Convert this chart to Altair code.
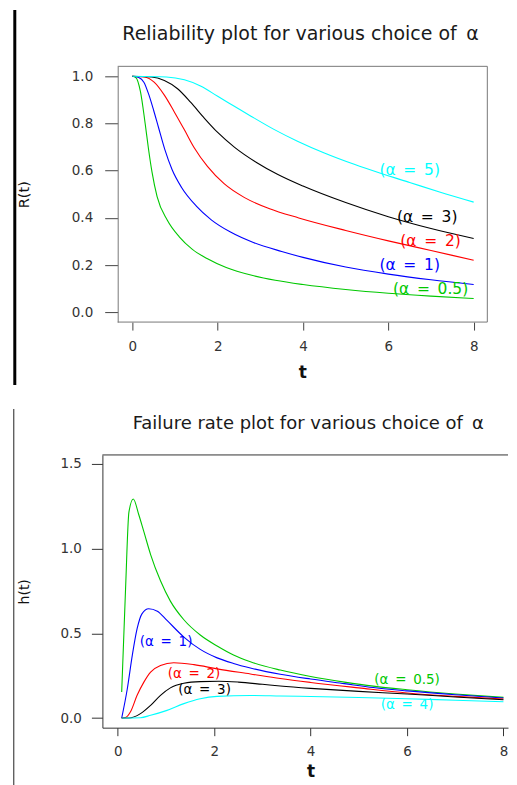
import altair as alt
import pandas as pd

FONT = "DejaVu Sans"
SP = "\u2002"

# ---------------- top panel: reliability R(t) ----------------
rel_keys = ["0.5", "1", "2", "3", "5"]
rel_colors = ["#00C800", "#0000FF", "#FF0000", "#000000", "#00FFFF"]

rel_t_a05 = [0, 0.08, 0.19, 0.3, 0.38, 0.46, 0.58, 0.82, 1.1, 1.4, 1.75, 2.2, 2.8, 3.35, 4.0, 5.0, 6.0, 7.0, 8.0]
rel_R_a05 = [1.0, 0.995, 0.935, 0.80, 0.69, 0.595, 0.49, 0.39, 0.32, 0.268, 0.228, 0.19, 0.157, 0.136, 0.118, 0.097, 0.081, 0.069, 0.059]

rel_t_a1 = [0, 0.15, 0.27, 0.39, 0.5, 0.61, 0.76, 0.93, 1.15, 1.5, 1.85, 2.3, 2.85, 3.5, 4.0, 5.0, 6.0, 7.0, 8.0]
rel_R_a1 = [1.0, 0.995, 0.975, 0.92, 0.855, 0.785, 0.69, 0.605, 0.53, 0.45, 0.392, 0.34, 0.295, 0.258, 0.233, 0.192, 0.162, 0.138, 0.118]

rel_t_a2 = [0, 0.28, 0.51, 0.75, 0.98, 1.22, 1.45, 1.76, 2.15, 2.62, 3.2, 3.9, 5.0, 6.0, 7.0, 8.0]
rel_R_a2 = [1.0, 0.997, 0.975, 0.92, 0.85, 0.773, 0.697, 0.618, 0.545, 0.487, 0.44, 0.400, 0.347, 0.303, 0.262, 0.221]

rel_t_a3 = [0, 0.45, 0.75, 1.06, 1.37, 1.69, 2.0, 2.39, 2.9, 3.4, 4.0, 5.0, 6.0, 7.0, 8.0]
rel_R_a3 = [1.0, 0.997, 0.982, 0.947, 0.889, 0.822, 0.762, 0.70, 0.636, 0.585, 0.535, 0.465, 0.405, 0.355, 0.313]

rel_t_a5 = [0, 0.8, 1.22, 1.61, 2.0, 2.39, 2.78, 3.33, 3.87, 4.5, 5.2, 5.8, 6.5, 7.2, 8.0]
rel_R_a5 = [1.0, 0.997, 0.985, 0.958, 0.915, 0.873, 0.831, 0.774, 0.725, 0.675, 0.627, 0.59, 0.55, 0.51, 0.467]

rel_label_text = ["(α" + SP + "=" + SP + v + ")" for v in ["0.5", "1", "2", "3", "5"]]
rel_label_t = [6.99, 6.5, 6.99, 6.91, 6.5]
rel_label_R = [0.10, 0.200, 0.303, 0.402, 0.602]

# ---------------- bottom panel: failure rate h(t) ----------------
haz_keys = ["0.5", "1", "2", "3", "4"]
haz_colors = ["#00C800", "#0000FF", "#FF0000", "#000000", "#00FFFF"]

haz_t_a05 = [0.08, 0.16, 0.23, 0.32, 0.435, 0.54, 0.68, 0.885, 1.09, 1.37, 1.71, 2.06, 2.4, 2.75, 3.37, 4.0, 4.7, 5.3, 6.0, 7.0, 8.0]
haz_h_a05 = [0.153, 0.76, 1.215, 1.293, 1.20, 1.10, 0.965, 0.81, 0.69, 0.58, 0.49, 0.425, 0.372, 0.332, 0.283, 0.245, 0.212, 0.188, 0.167, 0.142, 0.122]

haz_t_a1 = [0.08, 0.195, 0.3, 0.4, 0.5, 0.64, 0.82, 1.02, 1.37, 1.71, 2.06, 2.4, 2.75, 3.37, 4.0, 4.7, 5.3, 6.0, 7.0, 8.0]
haz_h_a1 = [0.0, 0.17, 0.37, 0.527, 0.615, 0.645, 0.63, 0.576, 0.478, 0.405, 0.355, 0.322, 0.295, 0.258, 0.23, 0.203, 0.18, 0.16, 0.137, 0.118]

haz_t_a2 = [0.08, 0.16, 0.26, 0.4, 0.54, 0.68, 0.885, 1.16, 1.58, 2.06, 2.75, 3.37, 4.0, 5.0, 6.0, 7.0, 8.0]
haz_h_a2 = [0.0, 0.003, 0.035, 0.134, 0.212, 0.271, 0.31, 0.326, 0.315, 0.29, 0.26, 0.233, 0.21, 0.178, 0.148, 0.128, 0.112]

haz_t_a3 = [0.08, 0.23, 0.47, 0.68, 0.885, 1.09, 1.37, 1.71, 2.1, 2.5, 3.0, 3.37, 4.0, 5.0, 6.0, 7.0, 8.0]
haz_h_a3 = [0.0, 0.0, 0.026, 0.075, 0.134, 0.178, 0.205, 0.215, 0.217, 0.212, 0.199, 0.189, 0.175, 0.157, 0.142, 0.124, 0.108]

haz_t_a4 = [0.08, 0.47, 0.68, 1.02, 1.37, 1.71, 2.06, 2.75, 3.37, 4.0, 5.0, 6.0, 7.0, 8.0]
haz_h_a4 = [0.0, 0.002, 0.016, 0.045, 0.085, 0.114, 0.128, 0.133, 0.13, 0.127, 0.121, 0.114, 0.105, 0.096]

haz_label_text = ["(α" + SP + "=" + SP + v + ")" for v in ["0.5", "1", "2", "3", "4"]]
haz_label_t = [6.0, 1.0, 1.58, 1.8, 6.0]
haz_label_h = [0.226, 0.448, 0.262, 0.168, 0.075]

x_ticks = [0, 2, 4, 6, 8]
rel_y_ticks = [0.0, 0.2, 0.4, 0.6, 0.8, 1.0]
haz_y_ticks = [0.0, 0.5, 1.0, 1.5]

rel_title = "Reliability plot for various choice of" + SP + "α"
haz_title = "Failure rate plot for various choice of" + SP + "α"


def long_frame(keys, ts, vs):
    rows = []
    for k, tt, vv in zip(keys, ts, vs):
        for a, b in zip(tt, vv):
            rows.append({"series": k, "t": a, "v": b})
    return pd.DataFrame(rows)


rel_df = long_frame(rel_keys,
                    [rel_t_a05, rel_t_a1, rel_t_a2, rel_t_a3, rel_t_a5],
                    [rel_R_a05, rel_R_a1, rel_R_a2, rel_R_a3, rel_R_a5])
haz_df = long_frame(haz_keys,
                    [haz_t_a05, haz_t_a1, haz_t_a2, haz_t_a3, haz_t_a4],
                    [haz_h_a05, haz_h_a1, haz_h_a2, haz_h_a3, haz_h_a4])
rel_lab = pd.DataFrame({"series": rel_keys, "t": rel_label_t, "v": rel_label_R, "label": rel_label_text})
haz_lab = pd.DataFrame({"series": haz_keys, "t": haz_label_t, "v": haz_label_h, "label": haz_label_text})
one = pd.DataFrame({"a": [0]})


def vrule(color, sw, x, y, y2):
    return alt.Chart(one).mark_rule(color=color, strokeWidth=sw).encode(
        x=alt.value(x), y=alt.value(y), y2=alt.value(y2))


def hrule(color, sw, x, x2, y):
    return alt.Chart(one).mark_rule(color=color, strokeWidth=sw).encode(
        x=alt.value(x), x2=alt.value(x2), y=alt.value(y))


# ---------- top panel (plot group starts at the same x as the lower one) ----------
W1, H1 = 385.3, 256
L1 = 15.3  # inset of the drawn frame inside the group
FR1 = "#777777"
rel_color = alt.Color("series:N", scale=alt.Scale(domain=rel_keys, range=rel_colors), legend=None)
rel_x = alt.X("t:Q", scale=alt.Scale(domain=[-0.702, 8.32], nice=False, zero=False),
              axis=alt.Axis(values=x_ticks, format="d", title="t", titleFont=FONT, titleFontSize=17,
                            titleFontWeight="bold", titleColor="#111", titleBaseline="alphabetic",
                            titleX=200, titleY=55, tickSize=8, tickColor="#444", labelPadding=9,
                            labelFont=FONT, labelFontSize=13.5, labelColor="#333", domain=False,
                            grid=False, labelFlush=False))
rel_y = alt.Y("v:Q", scale=alt.Scale(domain=[-0.041, 1.042], nice=False, zero=False),
              axis=alt.Axis(values=rel_y_ticks, format=".1f", title="R(t)", titleFont=FONT,
                            titleFontSize=14.5, titleFontWeight="normal", titleColor="#111",
                            titleAngle=270, titleBaseline="alphabetic", titleX=-89, titleY=H1 / 2,
                            tickSize=13, tickColor="#444", labelPadding=12, labelFont=FONT,
                            labelFontSize=13.5, labelColor="#333", domain=True, domainColor=FR1,
                            offset=-L1, grid=False, labelFlush=False))

rel_lines = alt.Chart(rel_df).mark_line(strokeWidth=1.1, interpolate="monotone").encode(
    x=rel_x, y=rel_y, color=rel_color)
rel_text = alt.Chart(rel_lab).mark_text(font=FONT, fontSize=15.5, align="center", baseline="middle").encode(
    x="t:Q", y="v:Q", text="label:N", color=rel_color)
rel_head = alt.Chart(one).mark_text(text=rel_title, font=FONT, fontSize=19, color="#1a1a1a",
                                    align="center", baseline="alphabetic").encode(
    x=alt.value(198.3), y=alt.value(-26))

top = alt.layer(
    rel_lines, rel_text, rel_head,
    hrule(FR1, 1, L1, W1, 0), hrule(FR1, 1, L1, W1, H1), vrule(FR1, 1, W1, 0, H1),
    vrule("#000000", 3, -87.7, -56.5, 319),
).properties(width=W1, height=H1, view=alt.ViewBackground(stroke="transparent", strokeWidth=0))

# ---------- bottom panel ----------
W2, H2 = 406, 273
FR2 = "#333333"
haz_color = alt.Color("series:N", scale=alt.Scale(domain=haz_keys, range=haz_colors), legend=None)
haz_x = alt.X("t:Q", scale=alt.Scale(domain=[-0.32, -0.32 + W2 / 48.25], nice=False, zero=False),
              axis=alt.Axis(values=x_ticks, format="d", title="t", titleFont=FONT, titleFontSize=17,
                            titleFontWeight="bold", titleColor="#111", titleBaseline="alphabetic",
                            titleX=208.3, titleY=49, tickSize=8,
                            tickColor="#333", labelPadding=9, labelFont=FONT, labelFontSize=13.5,
                            labelColor="#333", domain=True, domainColor=FR2, grid=False,
                            labelFlush=False))
haz_y = alt.Y("v:Q", scale=alt.Scale(domain=[-0.057, 1.553], nice=False, zero=False),
              axis=alt.Axis(values=haz_y_ticks, format=".1f", title="h(t)", titleFont=FONT,
                            titleFontSize=14, titleFontWeight="normal", titleColor="#111",
                            titleAngle=270, titleBaseline="alphabetic", titleX=-74, titleY=H2 / 2,
                            tickSize=11, tickColor="#333", labelPadding=10, labelFont=FONT,
                            labelFontSize=13.5, labelColor="#333", domain=True, domainColor=FR2,
                            grid=False, labelFlush=False))

haz_lines = alt.Chart(haz_df).mark_line(strokeWidth=1.1, interpolate="monotone").encode(
    x=haz_x, y=haz_y, color=haz_color)
haz_text = alt.Chart(haz_lab).mark_text(font=FONT, fontSize=13.5, align="center", baseline="middle").encode(
    x="t:Q", y="v:Q", text="label:N", color=haz_color)
haz_head = alt.Chart(one).mark_text(text=haz_title, font=FONT, fontSize=18, color="#1a1a1a",
                                    align="center", baseline="alphabetic").encode(
    x=alt.value(206), y=alt.value(-26))

bottom = alt.layer(
    haz_lines, haz_text, haz_head,
    hrule(FR2, 1, 0, W2, 0),
    vrule("#222222", 1, -88.7, -46, 331),
).properties(width=W2, height=H2, view=alt.ViewBackground(stroke="transparent", strokeWidth=0))

chart = alt.vconcat(top, bottom, spacing=21).properties(
    padding={"left": 4.5, "top": 0, "right": 0, "bottom": 0},
    background="white").resolve_scale(color="independent")

chart.save("out.html", embed_options={"renderer": "svg", "actions": False})
